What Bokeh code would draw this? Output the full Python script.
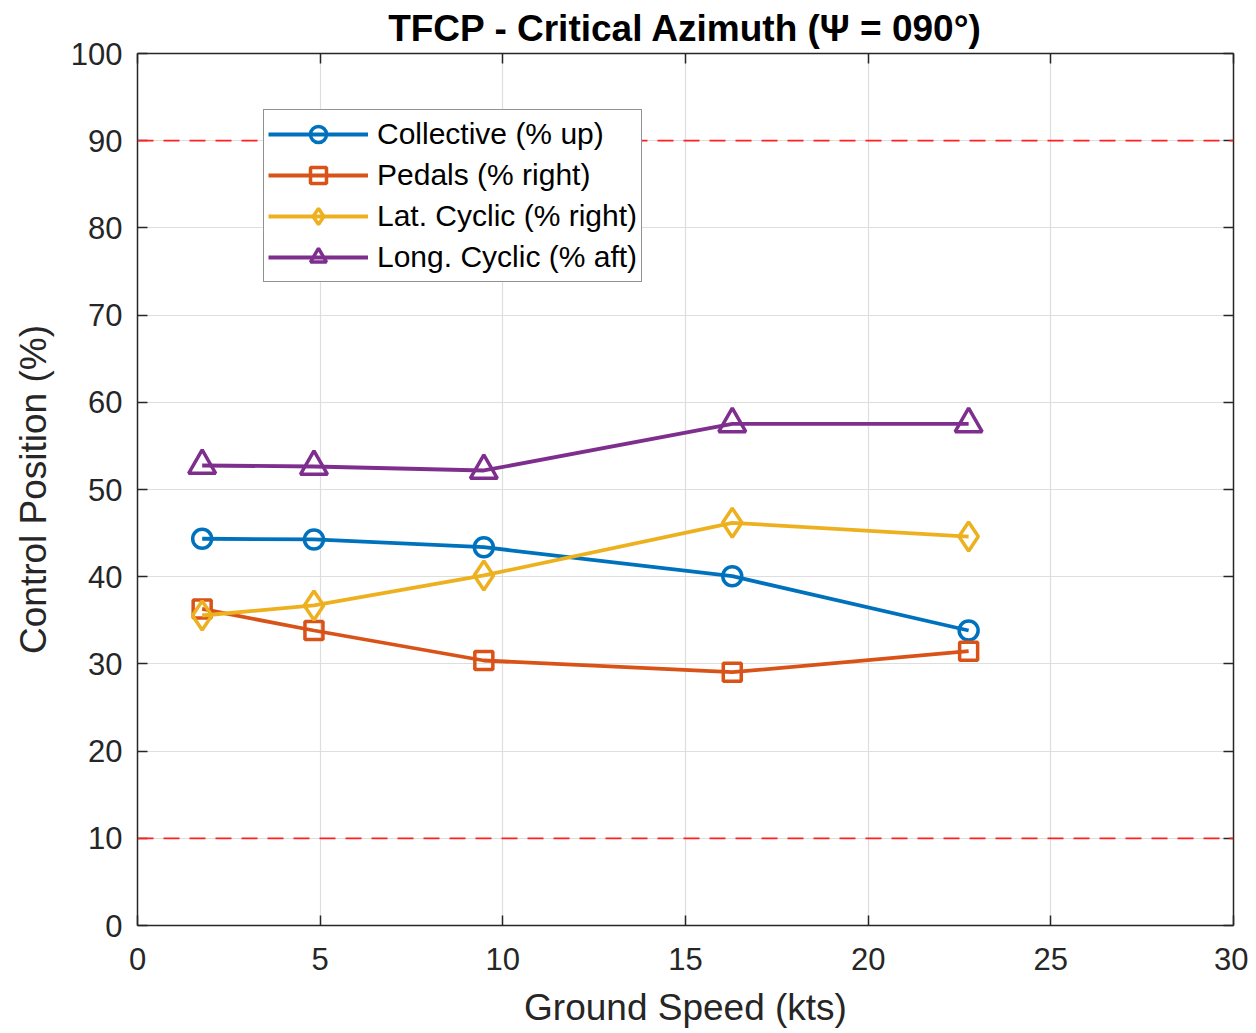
from bokeh.plotting import figure
from bokeh.models import Range1d, LinearAxis, Legend, LegendItem, Span, FixedTicker
from bokeh.embed import file_html
from bokeh.resources import INLINE

speed = [1.77, 4.83, 9.48, 16.28, 22.75]
collective = [44.35, 44.27, 43.38, 40.06, 33.83]
pedals = [36.3, 33.83, 30.39, 29.05, 31.46]
lat_cyclic = [35.55, 36.7, 40.14, 46.18, 44.6]
long_cyclic = [52.75, 52.64, 52.18, 57.53, 57.53]
limits = [10, 90]
x_ticks = [0, 5, 10, 15, 20, 25, 30]
y_ticks = [0, 10, 20, 30, 40, 50, 60, 70, 80, 90, 100]

FONT = "Liberation Sans"
AX = "#262626"

p = figure(output_backend="svg", toolbar_location=None,
           x_range=Range1d(0, 30), y_range=Range1d(0, 100),
           frame_width=1096, frame_height=872,
           min_border_left=137, min_border_right=15, min_border_top=53, min_border_bottom=100,
           title="TFCP - Critical Azimuth (\u03a8 = 090\u00b0)")
p.title.text_font = FONT
p.title.text_font_size = "37px"
p.title.text_font_style = "bold"
p.title.align = "center"
p.title.text_color = "black"
p.title.standoff = 9
p.outline_line_color = None
p.background_fill_color = "white"
p.border_fill_color = "white"

def style_axis(ax, labels=True):
    ax.axis_line_color = AX
    ax.axis_line_width = 1.5
    ax.major_tick_line_color = AX
    ax.major_tick_line_width = 1.5
    ax.major_tick_in = 10
    ax.major_tick_out = 0
    ax.minor_tick_line_color = None
    ax.major_label_text_font = FONT
    ax.major_label_text_font_size = "31px"
    ax.major_label_text_color = AX
    ax.axis_label_text_font = FONT
    ax.axis_label_text_font_size = "37px"
    ax.axis_label_text_font_style = "normal"
    ax.axis_label_text_color = AX
    if not labels:
        ax.major_label_overrides = {t: "" for t in ax.ticker.ticks}
        ax.major_label_standoff = 0

p.xaxis.ticker = FixedTicker(ticks=x_ticks)
p.yaxis.ticker = FixedTicker(ticks=y_ticks)
p.xaxis.axis_label = "Ground Speed (kts)"
p.yaxis.axis_label = "Control Position (%)"
style_axis(p.xaxis[0])
style_axis(p.yaxis[0])
p.xaxis.major_label_standoff = 22
p.yaxis.major_label_standoff = 15
p.xaxis.axis_label_standoff = 14
p.yaxis.axis_label_standoff = 14

top = LinearAxis(ticker=FixedTicker(ticks=x_ticks))
style_axis(top, labels=False)
right = LinearAxis(ticker=FixedTicker(ticks=y_ticks))
style_axis(right, labels=False)
p.add_layout(top, "above")
p.add_layout(right, "right")

p.xgrid.ticker = FixedTicker(ticks=x_ticks)
p.ygrid.ticker = FixedTicker(ticks=y_ticks)
p.grid.grid_line_color = "#dedede"
p.grid.grid_line_width = 1.2

for v in limits:
    p.add_layout(Span(location=v, dimension="width", line_color="#ff2020",
                      line_dash="16 10", line_width=1.8))

series = [
    ("Collective (% up)", collective, "#0072BD", "circle", 19),
    ("Pedals (% right)", pedals, "#D95319", "square", 18),
    ("Lat. Cyclic (% right)", lat_cyclic, "#EDB120", "diamond", 29),
    ("Long. Cyclic (% aft)", long_cyclic, "#7E2F8E", "triangle", 27),
]
items = []
for label, ys, color, marker, size in series:
    r1 = p.line(speed, ys, line_color=color, line_width=3.8)
    r2 = p.scatter(speed, ys, marker=marker, size=size, line_color=color,
                   line_width=3.5, fill_alpha=0)
    items.append(LegendItem(label=label, renderers=[r1, r2]))

legend = Legend(items=items, location=(126, 643))
legend.label_text_font = FONT
legend.label_text_font_size = "30px"
legend.label_text_color = "black"
legend.glyph_width = 100
legend.glyph_height = 40
legend.label_height = 40
legend.spacing = 1
legend.padding = 4
legend.margin = 0
legend.label_standoff = 9
legend.border_line_color = AX
legend.border_line_width = 1.5
legend.background_fill_alpha = 1
p.add_layout(legend, "center")

open("out.html", "w").write(file_html(p, INLINE))
